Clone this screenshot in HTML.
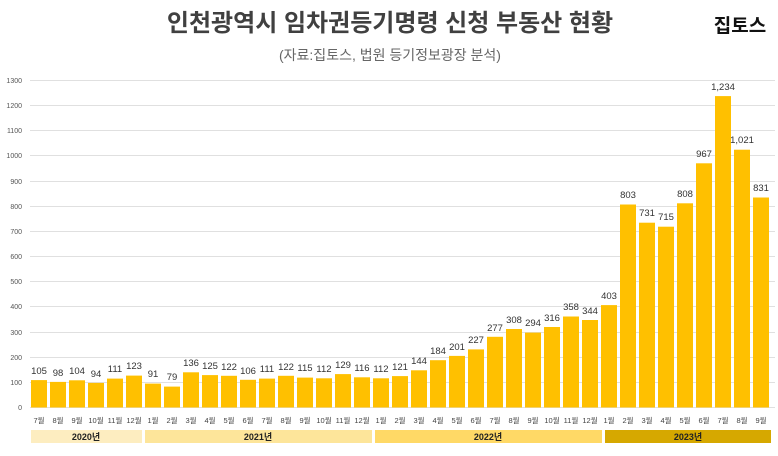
<!DOCTYPE html>
<html><head><meta charset="utf-8"><style>
body{margin:0;background:#fff;width:778px;height:451px;overflow:hidden}
svg text{font-family:"Liberation Sans","Noto Sans CJK KR",sans-serif}
</style></head><body>
<svg width="778" height="451" viewBox="0 0 778 451">
<text x="390" y="31" text-anchor="middle" font-size="24" font-weight="bold" fill="#404040">인천광역시 임차권등기명령 신청 부동산 현황</text>
<text x="740" y="32" text-anchor="middle" font-size="19" font-weight="bold" fill="#111">집토스</text>
<text x="390" y="60" text-anchor="middle" font-size="14" fill="#666">(자료:집토스, 법원 등기정보광장 분석)</text>
<g stroke="#e0e0e0" stroke-width="1">
<line x1="30" x2="775" y1="80.5" y2="80.5"/><line x1="30" x2="775" y1="105.5" y2="105.5"/><line x1="30" x2="775" y1="130.5" y2="130.5"/><line x1="30" x2="775" y1="155.5" y2="155.5"/><line x1="30" x2="775" y1="181.5" y2="181.5"/><line x1="30" x2="775" y1="206.5" y2="206.5"/><line x1="30" x2="775" y1="231.5" y2="231.5"/><line x1="30" x2="775" y1="256.5" y2="256.5"/><line x1="30" x2="775" y1="281.5" y2="281.5"/><line x1="30" x2="775" y1="306.5" y2="306.5"/><line x1="30" x2="775" y1="332.5" y2="332.5"/><line x1="30" x2="775" y1="357.5" y2="357.5"/><line x1="30" x2="775" y1="382.5" y2="382.5"/><line x1="30" x2="775" y1="407.5" y2="407.5"/>
</g>
<g font-size="7" fill="#555" text-anchor="end">
<text x="22" y="83">1300</text><text x="22" y="108">1200</text><text x="22" y="133">1100</text><text x="22" y="158">1000</text><text x="22" y="184">900</text><text x="22" y="209">800</text><text x="22" y="234">700</text><text x="22" y="259">600</text><text x="22" y="284">500</text><text x="22" y="309">400</text><text x="22" y="335">300</text><text x="22" y="360">200</text><text x="22" y="385">100</text><text x="22" y="410">0</text>
</g>
<g fill="#ffc000" stroke="#ffc000" stroke-width="1">
<rect x="31.5" y="380.6" width="15" height="26.4"/><rect x="50.5" y="382.4" width="15" height="24.6"/><rect x="69.5" y="380.8" width="15" height="26.2"/><rect x="88.5" y="383.4" width="15" height="23.6"/><rect x="107.5" y="379.1" width="15" height="27.9"/><rect x="126.5" y="376.1" width="15" height="30.9"/>
<rect x="145.5" y="384.1" width="15" height="22.9"/><rect x="164.5" y="387.1" width="15" height="19.9"/><rect x="183.5" y="372.8" width="15" height="34.2"/><rect x="202.5" y="375.6" width="15" height="31.4"/><rect x="221.5" y="376.3" width="15" height="30.7"/><rect x="240.5" y="380.3" width="15" height="26.7"/><rect x="259.5" y="379.1" width="15" height="27.9"/><rect x="278.5" y="376.3" width="15" height="30.7"/><rect x="297.5" y="378.1" width="15" height="28.9"/><rect x="316.5" y="378.8" width="15" height="28.2"/><rect x="335.5" y="374.6" width="15" height="32.4"/><rect x="354.5" y="377.8" width="15" height="29.2"/>
<rect x="373.5" y="378.8" width="15" height="28.2"/><rect x="392.5" y="376.6" width="15" height="30.4"/><rect x="411.5" y="370.8" width="15" height="36.2"/><rect x="430.5" y="360.7" width="15" height="46.3"/><rect x="449.5" y="356.4" width="15" height="50.6"/><rect x="468.5" y="349.9" width="15" height="57.1"/><rect x="487.5" y="337.3" width="15" height="69.7"/><rect x="506.5" y="329.5" width="15" height="77.5"/><rect x="525.5" y="333.1" width="15" height="73.9"/><rect x="544.5" y="327.5" width="15" height="79.5"/><rect x="563.5" y="317" width="15" height="90"/><rect x="582.5" y="320.5" width="15" height="86.5"/>
<rect x="601.5" y="305.6" width="15" height="101.4"/><rect x="620.5" y="205" width="15" height="202"/><rect x="639.5" y="223.2" width="15" height="183.8"/><rect x="658.5" y="227.2" width="15" height="179.8"/><rect x="677.5" y="203.8" width="15" height="203.2"/><rect x="696.5" y="163.8" width="15" height="243.2"/><rect x="715.5" y="96.6" width="15" height="310.4"/><rect x="734.5" y="150.2" width="15" height="256.8"/><rect x="753.5" y="198" width="15" height="209"/>
</g>
<g font-size="9.5" fill="#333" text-anchor="middle">
<text x="39" y="374">105</text><text x="58" y="376">98</text><text x="77" y="374">104</text><text x="96" y="377">94</text><text x="115" y="372">111</text><text x="134" y="369">123</text>
<text x="153" y="377">91</text><text x="172" y="380">79</text><text x="191" y="366">136</text><text x="210" y="369">125</text><text x="229" y="370">122</text><text x="248" y="374">106</text><text x="267" y="372">111</text><text x="286" y="370">122</text><text x="305" y="371">115</text><text x="324" y="372">112</text><text x="343" y="368">129</text><text x="362" y="371">116</text>
<text x="381" y="372">112</text><text x="400" y="370">121</text><text x="419" y="364">144</text><text x="438" y="354">184</text><text x="457" y="350">201</text><text x="476" y="343">227</text><text x="495" y="331">277</text><text x="514" y="323">308</text><text x="533" y="326">294</text><text x="552" y="321">316</text><text x="571" y="310">358</text><text x="590" y="314">344</text>
<text x="609" y="299">403</text><text x="628" y="198">803</text><text x="647" y="216">731</text><text x="666" y="220">715</text><text x="685" y="197">808</text><text x="704" y="157">967</text><text x="723" y="90">1,234</text><text x="742" y="143">1,021</text><text x="761" y="191">831</text>
</g>
<g font-size="7.5" fill="#444" text-anchor="middle">
<text x="39" y="423">7월</text><text x="58" y="423">8월</text><text x="77" y="423">9월</text><text x="96" y="423">10월</text><text x="115" y="423">11월</text><text x="134" y="423">12월</text>
<text x="153" y="423">1월</text><text x="172" y="423">2월</text><text x="191" y="423">3월</text><text x="210" y="423">4월</text><text x="229" y="423">5월</text><text x="248" y="423">6월</text><text x="267" y="423">7월</text><text x="286" y="423">8월</text><text x="305" y="423">9월</text><text x="324" y="423">10월</text><text x="343" y="423">11월</text><text x="362" y="423">12월</text>
<text x="381" y="423">1월</text><text x="400" y="423">2월</text><text x="419" y="423">3월</text><text x="438" y="423">4월</text><text x="457" y="423">5월</text><text x="476" y="423">6월</text><text x="495" y="423">7월</text><text x="514" y="423">8월</text><text x="533" y="423">9월</text><text x="552" y="423">10월</text><text x="571" y="423">11월</text><text x="590" y="423">12월</text>
<text x="609" y="423">1월</text><text x="628" y="423">2월</text><text x="647" y="423">3월</text><text x="666" y="423">4월</text><text x="685" y="423">5월</text><text x="704" y="423">6월</text><text x="723" y="423">7월</text><text x="742" y="423">8월</text><text x="761" y="423">9월</text>
</g>
<rect x="31" y="430" width="111" height="13" fill="#fdedc0"/>
<rect x="145" y="430" width="227" height="13" fill="#fde59a"/>
<rect x="375" y="430" width="227" height="13" fill="#ffd966"/>
<rect x="605" y="430" width="166" height="13" fill="#d6a800"/>
<g font-size="9" font-weight="bold" fill="#222" text-anchor="middle">
<text x="86" y="440">2020년</text><text x="258" y="440">2021년</text><text x="488" y="440">2022년</text><text x="688" y="440">2023년</text>
</g>
</svg>
</body></html>
